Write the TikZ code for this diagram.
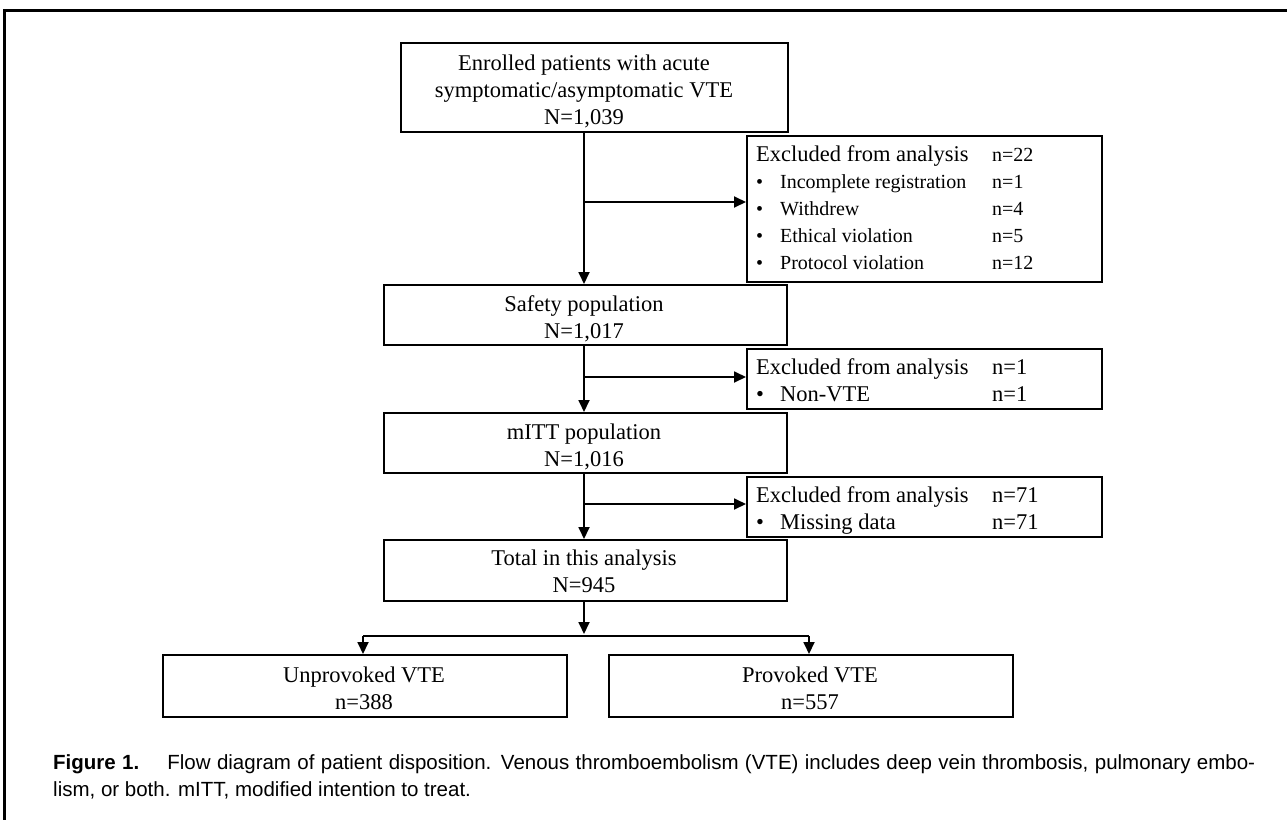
\documentclass[tikz,border=0pt]{standalone}
\usepackage{fontspec}
\setmainfont{Liberation Serif}
\newfontfamily\capfont{Liberation Sans}
\newcommand\smtxt{\fontsize{20}{27}\selectfont}
\usetikzlibrary{arrows.meta}
\begin{document}
\begin{tikzpicture}[x=1pt,y=-1pt,
  box/.style={draw,line width=1.8pt,inner sep=0pt,anchor=north west},
  txt/.style={inner sep=0pt,anchor=base,font=\fontsize{22.5}{27}\selectfont},
  ltxt/.style={inner sep=0pt,anchor=base west,font=\fontsize{22.5}{27}\selectfont},
  conn/.style={line width=1.8pt},
  arr/.style={line width=1.8pt,-{Triangle[length=12pt,width=11pt]}}]
\useasboundingbox (0,0) rectangle (1287,819);
% frame
\draw[line width=3pt] (1290,10) -- (4,10) -- (4,822);
% boxes
\node[box,minimum width=387pt,minimum height=89pt] (b1) at (400,42) {};
\node[box,minimum width=355pt,minimum height=146pt] (e1) at (746,135) {};
\node[box,minimum width=403pt,minimum height=60pt] (b2) at (383,284) {};
\node[box,minimum width=355pt,minimum height=60pt] (e2) at (746,348) {};
\node[box,minimum width=403pt,minimum height=60pt] (b3) at (383,412) {};
\node[box,minimum width=355pt,minimum height=60pt] (e3) at (746,476) {};
\node[box,minimum width=403pt,minimum height=61pt] (b4) at (383,539) {};
\node[box,minimum width=404pt,minimum height=62pt] (b5) at (162,654) {};
\node[box,minimum width=404pt,minimum height=62pt] (b6) at (608,654) {};
% texts
\node[txt] (t1) at (584,70) {\begin{tabular}[t]{@{}c@{}}Enrolled patients with acute\\symptomatic/asymptomatic VTE\\N=1,039\end{tabular}};
\node[txt] (t2) at (584,311.5) {\begin{tabular}[t]{@{}c@{}}Safety population\\N=1,017\end{tabular}};
\node[txt] (t3) at (584,439.5) {\begin{tabular}[t]{@{}c@{}}mITT population\\N=1,016\end{tabular}};
\node[txt] (t4) at (584,565.5) {\begin{tabular}[t]{@{}c@{}}Total in this analysis\\N=945\end{tabular}};
\node[txt] (t5) at (364,682.5) {\begin{tabular}[t]{@{}c@{}}Unprovoked VTE\\n=388\end{tabular}};
\node[txt] (t6) at (810,682.5) {\begin{tabular}[t]{@{}c@{}}Provoked VTE\\n=557\end{tabular}};
\node[ltxt] (x1) at (756,161.5) {\begin{tabular}[t]{@{}p{24pt}@{}p{212pt}@{}l@{}}
\multicolumn{2}{@{}l@{}}{Excluded from analysis} & \smtxt n=22\\
\smtxt\textbullet & \smtxt Incomplete registration & \smtxt n=1\\
\smtxt\textbullet & \smtxt Withdrew & \smtxt n=4\\
\smtxt\textbullet & \smtxt Ethical violation & \smtxt n=5\\
\smtxt\textbullet & \smtxt Protocol violation & \smtxt n=12
\end{tabular}};
\node[ltxt] (x2) at (756,374.5) {\begin{tabular}[t]{@{}p{24pt}@{}p{212pt}@{}l@{}}
\multicolumn{2}{@{}l@{}}{Excluded from analysis} & n=1\\
\textbullet & Non-VTE & n=1
\end{tabular}};
\node[ltxt] (x3) at (756,502.5) {\begin{tabular}[t]{@{}p{24pt}@{}p{212pt}@{}l@{}}
\multicolumn{2}{@{}l@{}}{Excluded from analysis} & n=71\\
\textbullet & Missing data & n=71
\end{tabular}};
% connectors
\coordinate (s1) at (584,202);
\coordinate (s2) at (584,377);
\coordinate (s3) at (584,504);
\coordinate (sp) at (584,636);
\coordinate (spl) at (363,636);
\coordinate (spr) at (809,636);
\draw[arr] (b1.south -| s1) -- (b2.north -| s1);
\draw[arr] (s1) -- (s1 -| e1.west);
\draw[arr] (b2.south -| s2) -- (b3.north -| s2);
\draw[arr] (s2) -- (s2 -| e2.west);
\draw[arr] (b3.south -| s3) -- (b4.north -| s3);
\draw[arr] (s3) -- (s3 -| e3.west);
\draw[arr,shorten >=2pt] (b4.south -| sp) -- (sp);
\draw[conn] (spl) -- (spr);
\draw[arr] (spl) -- (b5.north -| spl);
\draw[arr] (spr) -- (b6.north -| spr);
% caption
\node[inner sep=0pt,anchor=base west] (cap) at (53,769) {\parbox[t]{1202pt}{\capfont\fontsize{20.5}{27}\selectfont
\makebox[1202pt][s]{\textbf{Figure 1.}\hspace{0.9em} Flow diagram of patient disposition. Venous thromboembolism (VTE) includes deep vein thrombosis, pulmonary embo-}\\
lism, or both. mITT, modified intention to treat.}};
\end{tikzpicture}
\end{document}
